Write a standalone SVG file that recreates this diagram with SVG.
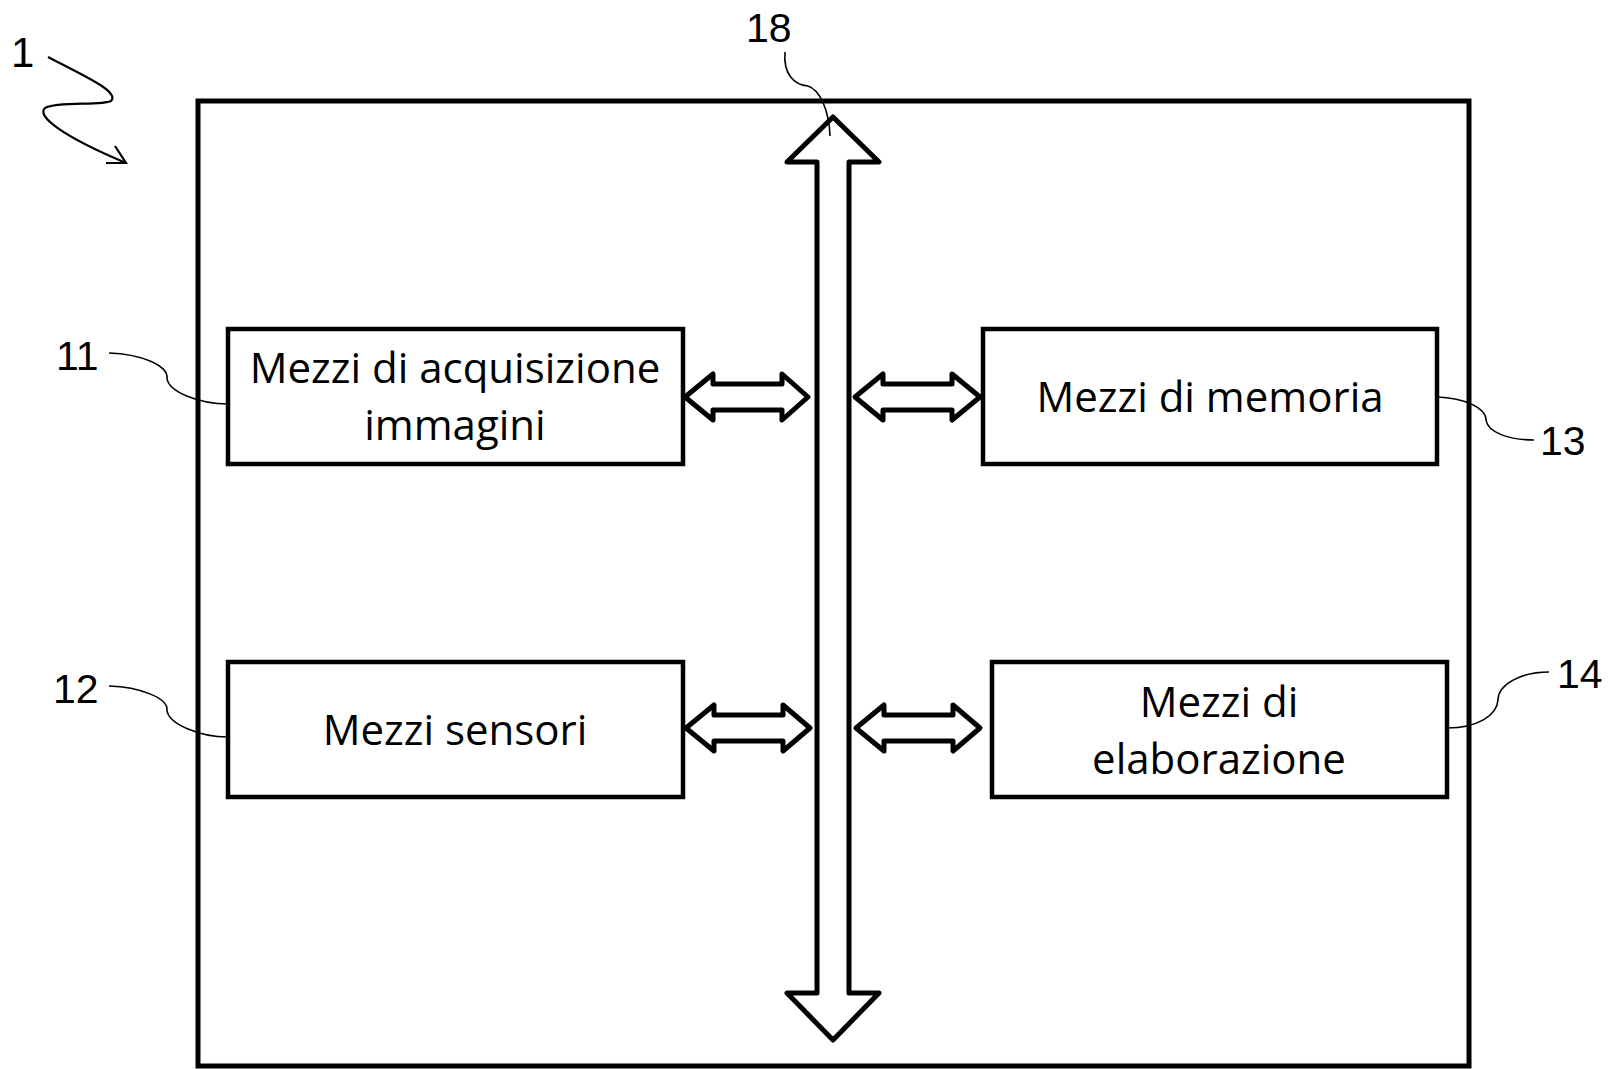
<svg xmlns="http://www.w3.org/2000/svg" width="1612" height="1069" viewBox="0 0 1612 1069">
<style>
.frame{fill:none;stroke:#000;stroke-width:5}
.box{fill:#fff;stroke:#000;stroke-width:4.5}
.arr{fill:#fff;stroke:#000;stroke-width:5;stroke-linejoin:round}
.lead{fill:none;stroke:#000;stroke-width:1.6}
.lbl{font-family:"Open Sans","Noto Sans",sans-serif;font-size:42px;fill:#000;text-anchor:middle}
.num{font-family:"Liberation Sans",Arial,sans-serif;font-size:41px;fill:#000}
</style>
<rect width="1612" height="1069" fill="#fff"/>
<g id="system-1">
<rect class="frame" x="198" y="101" width="1271" height="965"/>
<text class="num" x="11" y="67" style="font-size:42px">1</text>
<path class="lead" style="stroke-width:2.2" d="M48,57 C85,76 120,92 111,101 C102,106 58,101 45,108 C36,116 62,136 126,163"/>
<path class="lead" style="stroke-width:2.2" d="M115,146 L126,163 L106,163"/>
</g>
<g id="bus-18">
<polygon class="arr" points="833,117 879,162 849,162 849,993 879,993 833,1040 787,993 817,993 817,162 787,162"/>
<text class="num" x="746" y="42">18</text>
</g>
<g id="node-11">
<rect class="box" x="228" y="329" width="455" height="135"/>
<text class="lbl" x="455" y="383">Mezzi di acquisizione</text>
<text class="lbl" x="455" y="440">immagini</text>
<text class="num" x="56" y="370">11</text>
</g>
<g id="node-12">
<rect class="box" x="228" y="662" width="455" height="135"/>
<text class="lbl" x="455" y="745">Mezzi sensori</text>
<text class="num" x="53" y="703">12</text>
</g>
<g id="node-13">
<rect class="box" x="983" y="329" width="454" height="135"/>
<text class="lbl" x="1210" y="412">Mezzi di memoria</text>
<text class="num" x="1540" y="455">13</text>
</g>
<g id="node-14">
<rect class="box" x="992" y="662" width="455" height="135"/>
<text class="lbl" x="1219" y="717">Mezzi di</text>
<text class="lbl" x="1219" y="774">elaborazione</text>
<text class="num" x="1557" y="688">14</text>
</g>
<g id="connectors">
<polygon class="arr" points="685,397 713,374 713,384 782,384 782,374 808,397 782,420 782,410 713,410 713,420"/>
<polygon class="arr" points="855,397 883,374 883,384 952,384 952,374 980,397 952,420 952,410 883,410 883,420"/>
<polygon class="arr" points="686,728 714,705 714,715 783,715 783,705 810,728 783,751 783,741 714,741 714,751"/>
<polygon class="arr" points="856,728 884,705 884,715 953,715 953,705 980,728 953,751 953,741 884,741 884,751"/>
<path class="lead" d="M785,52 C783,75 795,85 808,86 C820,90 829,110 830,136"/>
<path class="lead" d="M109,353 C140,354 168,365 167,378 C168,392 200,404 228,404"/>
<path class="lead" d="M109,686 C140,687 168,698 167,710 C168,724 200,737 228,737"/>
<path class="lead" d="M1437,397 C1465,398 1486,408 1486,420 C1488,433 1510,440 1534,440"/>
<path class="lead" d="M1549,672 C1520,672 1498,685 1498,700 C1497,715 1478,728 1447,728"/>
</g>
</svg>
